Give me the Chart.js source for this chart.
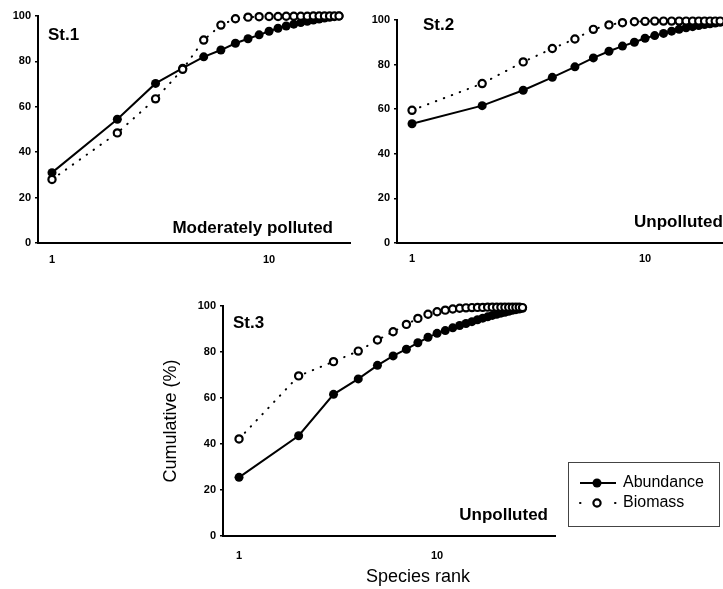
<!DOCTYPE html>
<html><head><meta charset="utf-8">
<script src="https://cdn.jsdelivr.net/npm/chart.js@4.4.1/dist/chart.umd.min.js"></script>
<style>
html,body{margin:0;padding:0;background:#fff;width:723px;height:589px;overflow:hidden;}
body{position:relative;}
canvas{position:absolute;}
</style></head><body>
<canvas id="c1" width="360" height="270" style="left:0;top:0;width:360px;height:270px"></canvas>
<canvas id="c2" width="373" height="270" style="left:360px;top:0;width:373px;height:270px"></canvas>
<canvas id="c3" width="563" height="304" style="left:160px;top:285px;width:563px;height:304px"></canvas>
<script>
// ---- data ----
const seriesLabels = ['Abundance', 'Biomass'];
const stationLabels = ['St.1', 'St.2', 'St.3'];
const statusLabels = ['Moderately polluted', 'Unpolluted', 'Unpolluted'];
const xTickValues = [1, 10];
const yTickValues = [0, 20, 40, 60, 80, 100];
const xAxisTitle = 'Species rank';
const yAxisTitle = 'Cumulative (%)';

const ranks1 = [1,2,3,4,5,6,7,8,9,10,11,12,13,14,15,16,17,18,19,20,21];
const abund1 = [31, 54.5, 70.3, 77, 82, 85, 88, 90, 91.7, 93.3, 94.6, 95.6, 96.4, 97.1, 97.7, 98.2, 98.7, 99.1, 99.4, 99.7, 100];
const bio1   = [28, 48.5, 63.5, 76.5, 89.4, 96, 98.8, 99.5, 99.7, 99.8, 99.8, 99.9, 99.9, 99.9, 99.9, 100, 100, 100, 100, 100, 100];

const ranks2 = [1,2,3,4,5,6,7,8,9,10,11,12,13,14,15,16,17,18,19,20,21];
const abund2 = [53.5, 61.6, 68.5, 74.3, 79, 83, 86, 88.3, 90, 91.8, 93, 94, 95, 95.8, 96.5, 97, 97.5, 98, 98.3, 98.6, 99];
const bio2   = [59.5, 71.5, 81.2, 87.2, 91.5, 95.8, 97.8, 98.8, 99.2, 99.4, 99.5, 99.5, 99.5, 99.5, 99.5, 99.5, 99.5, 99.5, 99.5, 99.5, 99.5];

const ranks3 = [1,2,3,4,5,6,7,8,9,10,11,12,13,14,15,16,17,18,19,20,21,22,23,24,25,26,27];
const abund3 = [25.5, 43.6, 61.6, 68.3, 74.2, 78.3, 81.2, 84, 86.4, 88.1, 89.3, 90.5, 91.5, 92.4, 93.2, 94, 94.7, 95.3, 95.9, 96.4, 96.9, 97.3, 97.7, 98.1, 98.4, 98.7, 99];
const bio3   = [42.2, 69.6, 75.8, 80.4, 85.2, 88.8, 92, 94.6, 96.4, 97.5, 98.2, 98.7, 99, 99.2, 99.3, 99.4, 99.4, 99.5, 99.5, 99.5, 99.5, 99.5, 99.5, 99.5, 99.5, 99.5, 99.3];

// ---- styling / layout ----
const FAM = '"Liberation Sans", Arial, Helvetica, sans-serif';
const tickFont = {family: FAM, size: 11, weight: 'bold'};

function makeAnnot(cfg) {
  return {
    id: 'annot_' + cfg.id,
    afterDraw(chart) {
      const c = chart.ctx;
      const a = chart.chartArea;
      c.save();
      c.fillStyle = '#000';
      c.textBaseline = 'alphabetic';
      c.font = 'bold 17px ' + FAM;
      c.textAlign = 'left';
      c.fillText(cfg.station, a.left + cfg.stDx, a.top + cfg.stDy);
      c.textAlign = cfg.statusAlign;
      c.fillText(cfg.status, cfg.statusX, a.bottom - cfg.statusDy);
      if (cfg.titles) {
        c.font = '18px ' + FAM;
        c.textAlign = 'center';
        c.textBaseline = 'middle';
        c.fillText(xAxisTitle, cfg.xtX, cfg.xtY);
        c.save();
        c.translate(cfg.ytX, (a.top + a.bottom) / 2);
        c.rotate(-Math.PI / 2);
        c.fillText(yAxisTitle, 0, 0);
        c.restore();
        // legend
        const L = cfg.legend;
        c.lineWidth = 1;
        c.strokeStyle = '#444';
        c.setLineDash([]);
        c.strokeRect(L.x + 0.5, L.y + 0.5, L.w, L.h);
        c.font = '16px ' + FAM;
        c.textAlign = 'left';
        c.textBaseline = 'middle';
        const ds = chart.data.datasets;
        [0, 1].forEach((k, i) => {
          const y = L.y + L.rows[i];
          const d = ds[k];
          c.strokeStyle = '#000';
          c.lineWidth = 2;
          if (k === 0) { c.setLineDash([]); c.lineCap = 'butt'; }
          else { c.setLineDash([0.5, 17]); c.lineCap = 'round'; }
          c.beginPath(); c.moveTo(L.x + 12, y); c.lineTo(L.x + 48, y); c.stroke();
          c.setLineDash([]);
          c.beginPath();
          c.arc(L.x + 29, y, d.pointRadius, 0, Math.PI * 2);
          c.fillStyle = d.pointBackgroundColor;
          c.fill();
          if (d.pointBorderWidth) { c.lineWidth = d.pointBorderWidth; c.stroke(); }
          c.fillStyle = '#000';
          c.fillText(d.label, L.x + 55, y);
        });
      }
      c.restore();
    }
  };
}

function makeChart(cfg) {
  const abundDs = {
    label: seriesLabels[0],
    data: cfg.ranks.map((r, i) => ({x: r, y: cfg.abund[i]})),
    borderColor: '#000', backgroundColor: '#000', borderWidth: 2,
    pointRadius: 4.5, pointBackgroundColor: '#000', pointBorderColor: '#000', pointBorderWidth: 0,
    tension: 0, clip: false, order: 1
  };
  const bioDs = {
    label: seriesLabels[1],
    data: cfg.ranks.map((r, i) => ({x: r, y: cfg.bio[i]})),
    borderColor: '#000', backgroundColor: '#fff', borderWidth: 2,
    borderDash: [0.5, 8], borderCapStyle: 'round',
    pointRadius: 3.6, pointBackgroundColor: '#fff', pointBorderColor: '#000', pointBorderWidth: 2.2,
    tension: 0, clip: false, order: 0
  };
  return new Chart(document.getElementById(cfg.id), {
    type: 'line',
    data: {datasets: [abundDs, bioDs]},
    options: {
      responsive: false, animation: false, devicePixelRatio: 1, events: [],
      layout: {padding: {top: cfg.padTop, right: cfg.padRight, left: 0, bottom: 0}},
      plugins: {legend: {display: false}, tooltip: {enabled: false}},
      scales: {
        x: {
          type: 'logarithmic', min: cfg.xMin, max: cfg.xMax,
          afterBuildTicks: s => { s.ticks = xTickValues.map(v => ({value: v})); },
          afterFit: s => { s.height = cfg.xAxisH; },
          grid: {display: false, drawTicks: false},
          border: {display: true, color: '#000', width: 2},
          ticks: {padding: cfg.xPad, color: '#000', font: tickFont, callback: v => String(v), maxRotation: 0, autoSkip: false}
        },
        y: {
          type: 'linear', min: 0, max: 100,
          afterBuildTicks: s => { s.ticks = yTickValues.map(v => ({value: v})); },
          afterFit: s => { s.width = cfg.yAxisW; },
          grid: {display: true, drawOnChartArea: false, drawTicks: true, tickLength: 3, color: '#000', lineWidth: 1.5},
          border: {display: true, color: '#000', width: 2},
          ticks: {padding: 4, color: '#000', font: tickFont, autoSkip: false}
        }
      }
    },
    plugins: [makeAnnot(cfg)]
  });
}

makeChart({
  id: 'c1', ranks: ranks1, abund: abund1, bio: bio1,
  xMin: 0.862, xMax: 23.6, padTop: 16, padRight: 10, yAxisW: 38, xAxisH: 27, xPad: 10,
  station: stationLabels[0], stDx: 10, stDy: 24,
  status: statusLabels[0], statusAlign: 'right', statusX: 333, statusDy: 10
});
makeChart({
  id: 'c2', ranks: ranks2, abund: abund2, bio: bio2,
  xMin: 0.862, xMax: 21.6, padTop: 20, padRight: 10, yAxisW: 37, xAxisH: 27, xPad: 9,
  station: stationLabels[1], stDx: 26, stDy: 10,
  status: statusLabels[1], statusAlign: 'left', statusX: 274, statusDy: 16
});
makeChart({
  id: 'c3', ranks: ranks3, abund: abund3, bio: bio3,
  xMin: 0.830, xMax: 39.4, padTop: 21, padRight: 168, yAxisW: 63, xAxisH: 53, xPad: 13,
  station: stationLabels[2], stDx: 10, stDy: 22,
  status: statusLabels[2], statusAlign: 'right', statusX: 388, statusDy: 16,
  titles: true, xtX: 258, xtY: 292, ytX: 11,
  legend: {x: 408, y: 177, w: 151, h: 64, rows: [21, 41]}
});
</script>
</body></html>
